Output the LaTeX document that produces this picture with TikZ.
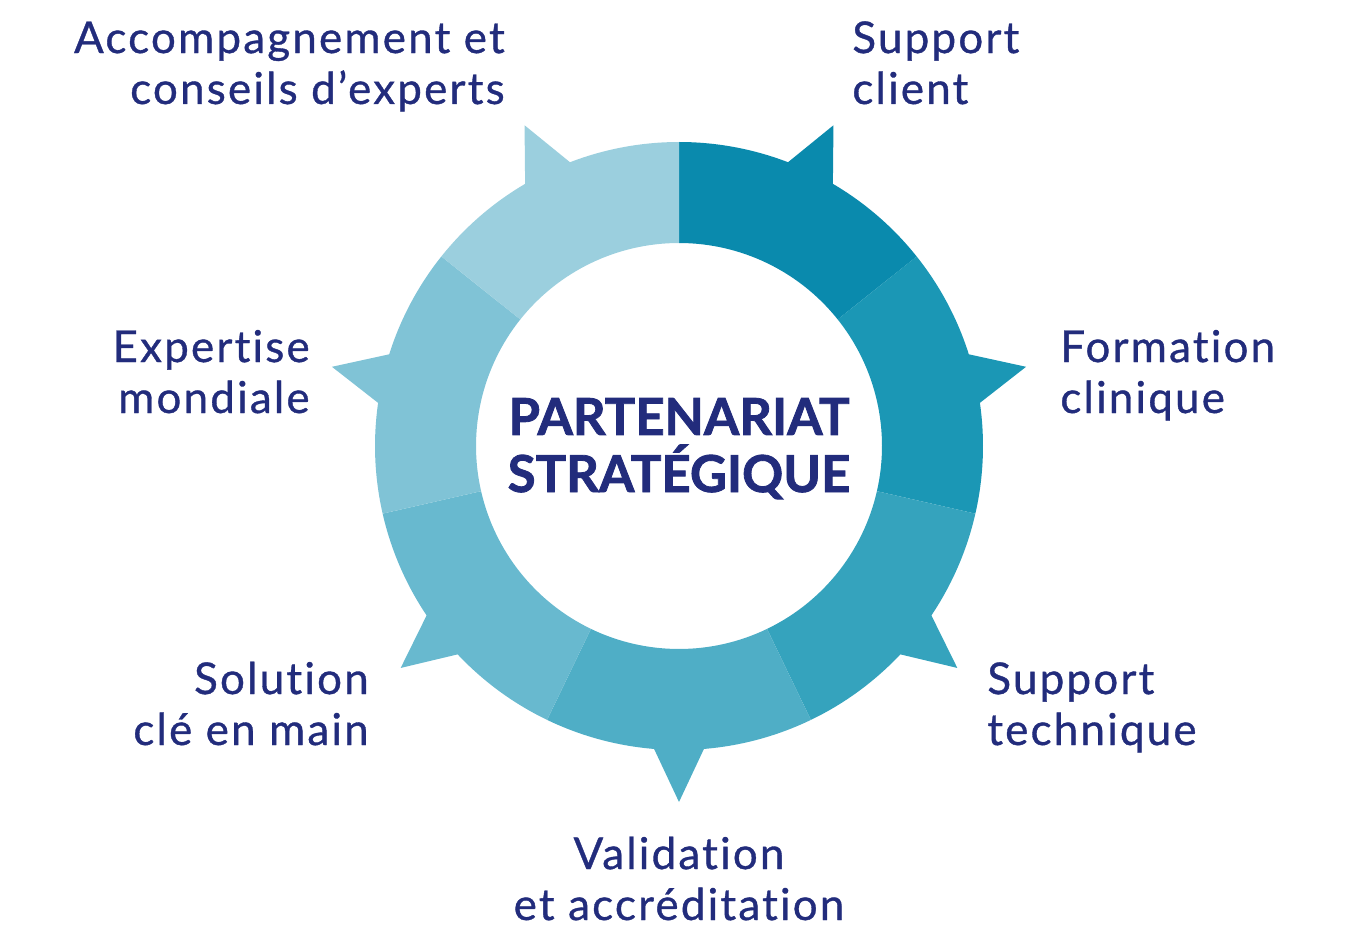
\documentclass[tikz,border=0pt]{standalone}
\usepackage{fontspec}
\setmainfont{Lato}[Ligatures=NoCommon, LetterSpace=5, FakeBold=0.8]
\newfontfamily\titlefont{Lato}[Ligatures=NoCommon, FakeBold=1.6]
\usetikzlibrary{positioning}

\definecolor{navy}{RGB}{34,44,124}
\definecolor{segA}{HTML}{0A8AAD}
\definecolor{segB}{HTML}{1B97B5}
\definecolor{segC}{HTML}{35A3BD}
\definecolor{segD}{HTML}{4FAEC6}
\definecolor{segE}{HTML}{68B9CF}
\definecolor{segF}{HTML}{80C3D6}
\definecolor{segG}{HTML}{9BCFDE}

\begin{document}
\begin{tikzpicture}[
        x=0.02cm, y=0.02cm,
        label text/.style={text=navy, inner sep=0pt, font=\fontsize{25}{29}\selectfont},
        title text/.style={text=navy, inner sep=0pt, align=center, font=\titlefont\fontsize{29}{32.5}\selectfont\bfseries}
      ]
      \useasboundingbox (0,0) rectangle (1345,948);

      % ring and fins
      \begin{scope}[shift={(679,502)}]
      \foreach \c [count=\i from 0] in {segA,segB,segC,segD,segE,segF,segG}{
        \pgfmathsetmacro\a{90-\i*360/7}
        \pgfmathsetmacro\b{\a-360/7}
        \pgfmathsetmacro\m{\a-180/7}
        \fill[\c, rotate=\m] (356,0) -- (290,31) -- (290,-31) -- cycle;
        \fill[\c] (\a:304) arc[start angle=\a, end angle=\b, radius=304]
          -- (\b:203) arc[start angle=\b, end angle=\a, radius=203] -- cycle;
      }
      \end{scope}

      \node[title text, anchor=base] (title) at (679,456) {PARTENARIAT\\STRATÉGIQUE};

      % labels, placed by the baseline of their last line
      \node[label text, align=right, anchor=base east] (experts) at (505,844) {Accompagnement et\\conseils d’experts};
      \node[label text, align=left, anchor=base west] (client) at (852,844) {Support\\client};
      \node[label text, align=left, anchor=base west] (formation) at (1060,535) {Formation\\clinique};
      \node[label text, align=right, anchor=base east] (mondiale) at (310,535) {Expertise\\mondiale};
      \node[label text, align=left, anchor=base west] (technique) at (987,203) {Support\\technique};
      \node[label text, align=right, anchor=base east] (solution) at (369,203) {Solution\\clé en main};
      \node[label text, align=center, anchor=base] (validation) at (679,28) {Validation\\et accréditation};
\end{tikzpicture}
\end{document}
